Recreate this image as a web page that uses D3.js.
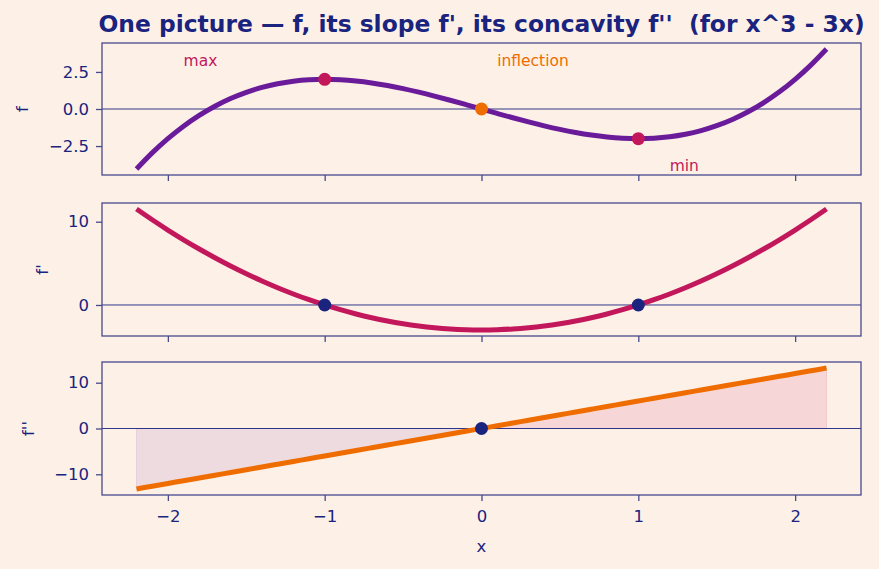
<!DOCTYPE html>
<html lang="en">
<head>
<meta charset="UTF-8">
<title>f, f', f''</title>
<script src="https://d3js.org/d3.v7.min.js"></script>
<style>
  body { margin: 0; background: #fdf1e7; }
  text { font-family: "DejaVu Sans", sans-serif; }
</style>
</head>
<body>
<script>
// sampled values of x^3 - 3x and its derivatives
var xs = [-2.2, -2.1, -2.0, -1.9, -1.8, -1.7, -1.6, -1.5, -1.4, -1.3, -1.2, -1.1, -1.0,
  -0.9, -0.8, -0.7, -0.6, -0.5, -0.4, -0.3, -0.2, -0.1, 0,
  0.1, 0.2, 0.3, 0.4, 0.5, 0.6, 0.7, 0.8, 0.9, 1.0, 1.1, 1.2, 1.3, 1.4, 1.5, 1.6, 1.7,
  1.8, 1.9, 2.0, 2.1, 2.2];
var fVals = [-4.048, -2.961, -2, -1.159, -0.432, 0.187, 0.704, 1.125, 1.456, 1.703, 1.872, 1.969, 2,
  1.971, 1.888, 1.757, 1.584, 1.375, 1.136, 0.873, 0.592, 0.299, 0,
  -0.299, -0.592, -0.873, -1.136, -1.375, -1.584, -1.757, -1.888, -1.971, -2, -1.969, -1.872,
  -1.703, -1.456, -1.125, -0.704, -0.187, 0.432, 1.159, 2, 2.961, 4.048];
var slopeVals = [11.52, 10.23, 9, 7.83, 6.72, 5.67, 4.68, 3.75, 2.88, 2.07, 1.32, 0.63, 0,
  -0.57, -1.08, -1.53, -1.92, -2.25, -2.52, -2.73, -2.88, -2.97, -3,
  -2.97, -2.88, -2.73, -2.52, -2.25, -1.92, -1.53, -1.08, -0.57, 0, 0.63, 1.32,
  2.07, 2.88, 3.75, 4.68, 5.67, 6.72, 7.83, 9, 10.23, 11.52];
var concVals = [-13.2, -12.6, -12, -11.4, -10.8, -10.2, -9.6, -9, -8.4, -7.8, -7.2, -6.6, -6,
  -5.4, -4.8, -4.2, -3.6, -3, -2.4, -1.8, -1.2, -0.6, 0,
  0.6, 1.2, 1.8, 2.4, 3, 3.6, 4.2, 4.8, 5.4, 6, 6.6, 7.2,
  7.8, 8.4, 9, 9.6, 10.2, 10.8, 11.4, 12, 12.6, 13.2];

var extremaX = [-1, 1];
var extremaF = [2, -2];
var inflX = [0];
var inflF = [0];
var xTicks = [-2, -1, 0, 1, 2];
var fTicks = [-2.5, 0, 2.5];
var slopeTicks = [0, 10];
var concTicks = [-10, 0, 10];

var navy = "#1a237e", spine = "#474a8c";
var purple = "#6a1b9a", crimson = "#c2185b", orange = "#ef6c00";

var width = 879, height = 569;
var left = 102, right = 861;

var svg = d3.select("body").append("svg")
  .attr("width", width).attr("height", height)
  .style("background", "#fdf1e7");

var x = d3.scaleLinear().domain([-2.42, 2.42]).range([left, right]);

function pad(lo, hi) { var m = (hi - lo) * 0.05; return [lo - m, hi + m]; }

var panels = [
  { top: 43, bottom: 175, vals: fVals, ticks: fTicks, label: "f", labelX: 22, color: purple,
    fmt: d3.format(".1f") },
  { top: 203, bottom: 336, vals: slopeVals, ticks: slopeTicks, label: "f'", labelX: 42, color: crimson,
    fmt: d3.format("d") },
  { top: 362, bottom: 495, vals: concVals, ticks: concTicks, label: "f''", labelX: 28, color: orange,
    fmt: d3.format("d") }
];

panels.forEach(function (p, i) {
  p.y = d3.scaleLinear().domain(pad(d3.min(p.vals), d3.max(p.vals))).range([p.bottom, p.top]);
  var g = svg.append("g");
  p.g = g;

  if (i === 2) {
    // shade concave-down and concave-up parts
    var pts = xs.map(function (d, k) { return [d, p.vals[k]]; });
    var area = d3.area().x(function (d) { return x(d[0]); })
      .y0(p.y(0)).y1(function (d) { return p.y(d[1]); });
    g.append("path").datum(pts.filter(function (d) { return d[0] <= 0; }))
      .attr("d", area).attr("fill", purple).attr("fill-opacity", 0.1)
      .attr("stroke", purple).attr("stroke-opacity", 0.1);
    g.append("path").datum(pts.filter(function (d) { return d[0] >= 0; }))
      .attr("d", area).attr("fill", crimson).attr("fill-opacity", 0.12)
      .attr("stroke", crimson).attr("stroke-opacity", 0.12);
  }

  g.append("line").attr("x1", left).attr("x2", right)
    .attr("y1", p.y(0)).attr("y2", p.y(0))
    .attr("stroke", navy).attr("stroke-width", 0.9);

  var line = d3.line().x(function (d, k) { return x(xs[k]); })
    .y(function (d) { return p.y(d); }).curve(d3.curveMonotoneX);
  g.append("path").datum(p.vals).attr("d", line)
    .attr("fill", "none").attr("stroke", p.color).attr("stroke-width", 5);

  var yAxis = d3.axisLeft(p.y).tickValues(p.ticks).tickSize(6).tickPadding(7)
    .tickFormat(function (d) { return p.fmt(d).replace("-", "\u2212"); });
  var ya = g.append("g").attr("transform", "translate(" + left + ",0)").call(yAxis);
  var xAxis = d3.axisBottom(x).tickValues(xTicks).tickSize(6).tickPadding(9)
    .tickFormat(i === 2 ? function (d) { return String(d).replace("-", "\u2212"); } : "");
  var xa = g.append("g").attr("transform", "translate(0," + p.bottom + ")").call(xAxis);
  [ya, xa].forEach(function (a) {
    a.select(".domain").remove();
    a.selectAll("line").attr("stroke", spine).attr("stroke-width", 1.3);
    a.selectAll("text").attr("fill", navy).style("font-size", "16.5px");
  });

  g.append("rect").attr("x", left).attr("y", p.top)
    .attr("width", right - left).attr("height", p.bottom - p.top)
    .attr("fill", "none").attr("stroke", spine).attr("stroke-width", 1.3);

  g.append("text")
    .attr("transform", "translate(" + p.labelX + "," + ((p.top + p.bottom) / 2) + ") rotate(-90)")
    .attr("text-anchor", "middle").attr("dy", "0.35em")
    .attr("fill", navy).style("font-size", "16.5px").text(p.label);
});

// markers
var p0 = panels[0], p1 = panels[1], p2 = panels[2];
extremaX.forEach(function (d, k) {
  p0.g.append("circle").attr("cx", x(d)).attr("cy", p0.y(extremaF[k])).attr("r", 6.5).attr("fill", crimson);
  p1.g.append("circle").attr("cx", x(d)).attr("cy", p1.y(0)).attr("r", 6.5).attr("fill", navy);
});
inflX.forEach(function (d, k) {
  p0.g.append("circle").attr("cx", x(d)).attr("cy", p0.y(inflF[k])).attr("r", 6.5).attr("fill", orange);
  p2.g.append("circle").attr("cx", x(d)).attr("cy", p2.y(0)).attr("r", 6.5).attr("fill", navy);
});

// notes
var notes = [
  { text: "max", x: -1.9, y: 3.3, color: crimson },
  { text: "inflection", x: 0.1, y: 3.3, color: orange },
  { text: "min", x: 1.2, y: -3.8, color: crimson }
];
notes.forEach(function (n) {
  p0.g.append("text").attr("x", x(n.x)).attr("y", p0.y(n.y)).attr("dy", "0.35em")
    .attr("fill", n.color).style("font-size", "15.5px").text(n.text);
});

svg.append("text").attr("x", (left + right) / 2).attr("y", 546).attr("dy", "0.35em")
  .attr("text-anchor", "middle").attr("fill", navy).style("font-size", "16.5px").text("x");

svg.append("text").attr("x", (left + right) / 2).attr("y", 32)
  .attr("text-anchor", "middle").attr("fill", navy)
  .style("font-size", "23.4px").style("font-weight", "bold").style("white-space", "pre")
  .text("One picture \u2014 f, its slope f', its concavity f''  (for x^3 - 3x)");
</script>
</body>
</html>
